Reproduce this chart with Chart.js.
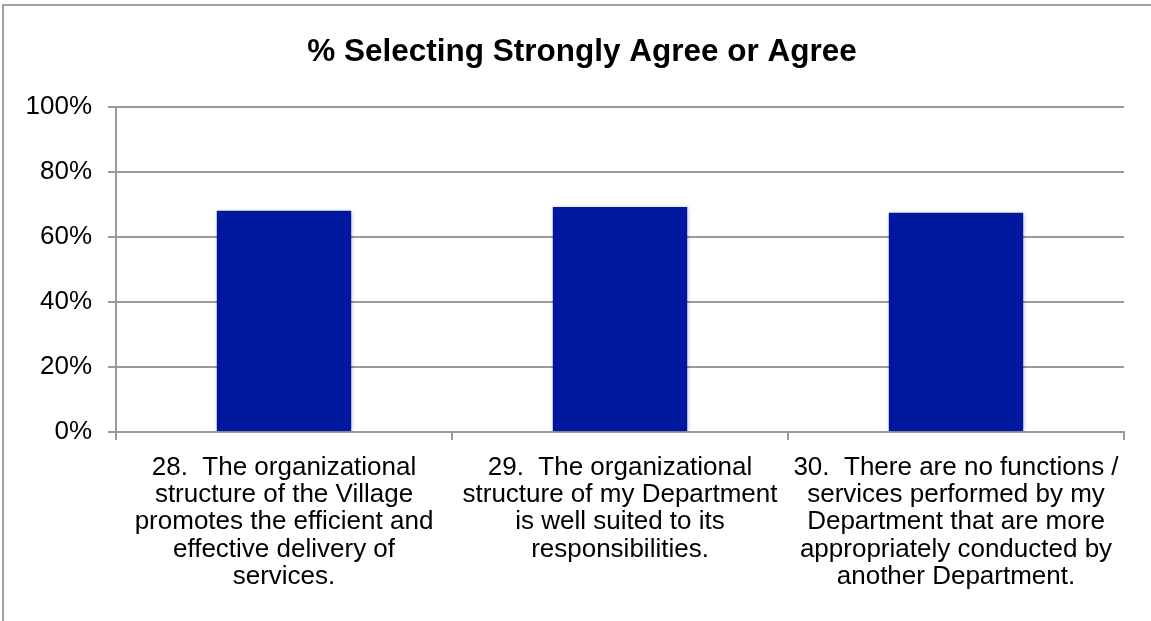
<!DOCTYPE html>
<html>
<head>
<meta charset="utf-8">
<script src="https://cdn.jsdelivr.net/npm/chart.js@4.4.1/dist/chart.umd.min.js"></script>
<style>
  html, body { margin: 0; padding: 0; background: #fff; }
  #wrap { width: 1151px; height: 621px; position: relative; }
</style>
</head>
<body>
<div id="wrap"><canvas id="c" width="1151" height="621"></canvas></div>
<script>
// Survey items (x categories), one label line per array entry
const categories = [
  ["28.  The organizational", "structure of the Village", "promotes the efficient and", "effective delivery of", "services."],
  ["29.  The organizational", "structure of my Department", "is well suited to its", "responsibilities."],
  ["30.  There are no functions /", "services performed by my", "Department that are more", "appropriately conducted by", "another Department."]
];
// Share of respondents selecting Strongly Agree or Agree (%)
const agreeShare = [68.1, 69.2, 67.5];
// Value axis ticks (%)
const yTicks = [0, 20, 40, 60, 80, 100];

const chartTitle = "% Selecting Strongly Agree or Agree";
const FONT = "'Liberation Sans', Arial, Helvetica, sans-serif";
const GRID = "#9a9a9a";

// Thin gray frame along the top and left edges
const framePlugin = {
  id: 'frame',
  beforeDraw(chart) {
    const ctx = chart.ctx;
    ctx.save();
    ctx.strokeStyle = "#a0a0a0";
    ctx.lineWidth = 2;
    ctx.beginPath();
    ctx.moveTo(3, chart.height);
    ctx.lineTo(3, 5);
    ctx.lineTo(chart.width, 5);
    ctx.stroke();
    ctx.restore();
  }
};

// Title centred over the whole framed panel (not just the plot area)
const panelTitlePlugin = {
  id: 'panelTitle',
  afterDraw(chart, args, opts) {
    const ctx = chart.ctx;
    ctx.save();
    ctx.font = `bold ${opts.size}px ${FONT}`;
    ctx.fillStyle = '#000';
    ctx.textAlign = 'center';
    ctx.textBaseline = 'middle';
    ctx.fillText(opts.text, (3 + chart.width + 10) / 2, opts.y);
    ctx.restore();
  }
};

// Soft drop shadow under the bars
const shadowPlugin = {
  id: 'barShadow',
  beforeDatasetsDraw(chart) {
    const ctx = chart.ctx;
    ctx.save();
    ctx.shadowColor = 'rgba(0,0,0,0.28)';
    ctx.shadowBlur = 5;
    ctx.shadowOffsetX = 1;
    ctx.shadowOffsetY = 1;
  },
  afterDatasetsDraw(chart) {
    chart.ctx.restore();
  }
};

new Chart(document.getElementById('c'), {
  type: 'bar',
  data: {
    labels: categories,
    datasets: [{
      data: agreeShare,
      backgroundColor: '#0018a0',
      borderWidth: 0,
      categoryPercentage: 1.0,
      barPercentage: 0.4
    }]
  },
  options: {
    responsive: false,
    animation: false,
    devicePixelRatio: 1,
    layout: { padding: { left: 0, right: 27, top: 107, bottom: 0 } },
    plugins: {
      legend: { display: false },
      tooltip: { enabled: false },
      title: { display: false },
      panelTitle: { text: chartTitle, size: 31.5, y: 52 }
    },
    scales: {
      x: {
        grid: {
          offset: true,
          drawOnChartArea: false,
          drawTicks: true,
          tickLength: 8,
          color: GRID,
          lineWidth: 2
        },
        border: { display: true, color: GRID, width: 2 },
        ticks: {
          color: '#000',
          font: { family: FONT, size: 26, lineHeight: 1.05 },
          padding: 14,
          maxRotation: 0,
          minRotation: 0,
          autoSkip: false
        },
        afterFit(scale) { scale.height = 189; }
      },
      y: {
        min: 0,
        max: 100,
        afterBuildTicks(scale) { scale.ticks = yTicks.map(v => ({ value: v })); },
        grid: {
          color: GRID,
          lineWidth: 2,
          drawTicks: true,
          tickLength: 8
        },
        border: { display: true, color: GRID, width: 2 },
        ticks: {
          color: '#000',
          font: { family: FONT, size: 26 },
          padding: 16,
          callback: v => v + '%'
        },
        afterFit(scale) { scale.width = 116; }
      }
    }
  },
  plugins: [framePlugin, shadowPlugin, panelTitlePlugin]
});
</script>
</body>
</html>
